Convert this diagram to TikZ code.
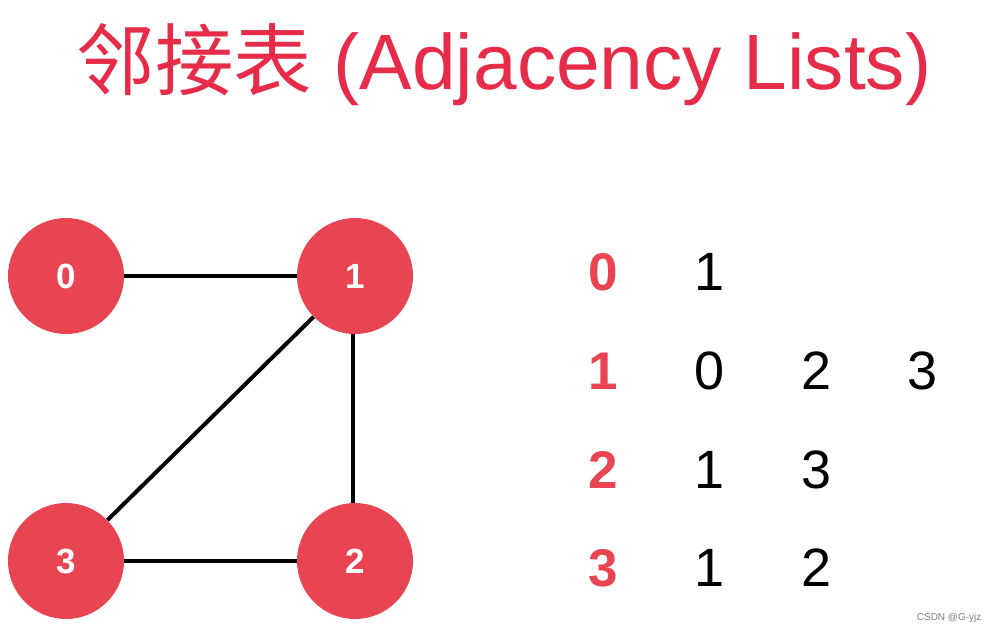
\documentclass[tikz,border=0pt]{standalone}
\usepackage{fontspec}
\setmainfont{Liberation Sans}
\newfontfamily\cjk{Noto Sans CJK SC}
\definecolor{nodered}{RGB}{232,68,82}
\definecolor{titlered}{RGB}{230,44,72}
\begin{document}
\begin{tikzpicture}[x=1pt,y=-1pt,
  vert/.style={circle,fill=nodered,minimum size=116pt,inner sep=0pt,text=white,font=\fontsize{35}{35}\selectfont\bfseries},
  edge/.style={line width=4pt,black},
  head/.style={text=nodered,font=\fontsize{53}{53}\selectfont\bfseries,anchor=base},
  item/.style={text=black,font=\fontsize{54}{54}\selectfont,anchor=base}]
\useasboundingbox[fill=white] (0,0) rectangle (995,631);
\node[text=titlered,anchor=base,font=\fontsize{78.5}{78.5}\selectfont,inner sep=0pt] (title) at (504,90) {{\cjk 邻接表} (Adjacency Lists)};
\node[vert] (n0) at (66,276) {0};
\node[vert] (n1) at (355,276) {1};
\node[vert] (n2) at (355,561) {2};
\node[vert] (n3) at (66,561) {3};
\draw[edge] (n0) -- (n1);
\draw[edge] ([xshift=-2pt]n1.south) -- ([xshift=-2pt]n2.north);
\draw[edge] (n1) -- (n3);
\draw[edge] (n3) -- (n2);
\node[head] (h0) at (603,290) {0};
\node[head] (h1) at (603,389) {1};
\node[head] (h2) at (603,488) {2};
\node[head] (h3) at (603,586) {3};
\node[item] (a01) at (710,290) {1};
\node[item] (a10) at (710,389) {0};
\node[item] (a12) at (817,389) {2};
\node[item] (a13) at (923,389) {3};
\node[item] (a21) at (710,488) {1};
\node[item] (a23) at (817,488) {3};
\node[item] (a31) at (710,586) {1};
\node[item] (a32) at (817,586) {2};
\node[text=gray,font=\fontsize{10}{10}\selectfont,anchor=base east] (wm) at (985,620) {CSDN @G-yjz};
\end{tikzpicture}
\end{document}
